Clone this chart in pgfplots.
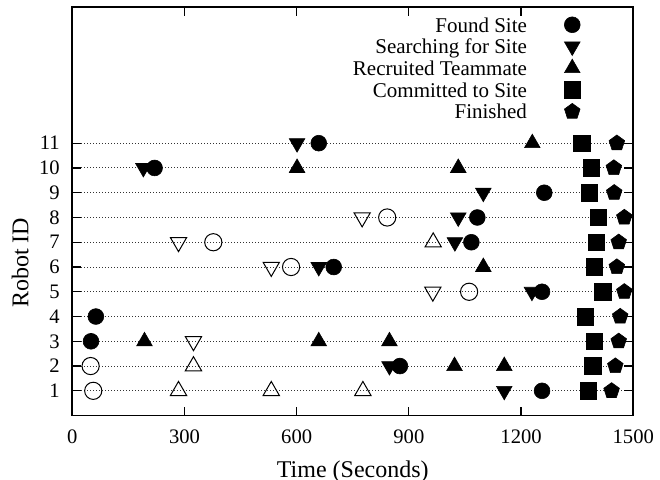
\documentclass[border=0pt]{standalone}
\usepackage{fontspec}
\setmainfont{Liberation Serif}
\usepackage{pgfplots}
\pgfplotsset{compat=1.18}
\begin{document}
\begin{tikzpicture}
\path[use as bounding box] (0,0) rectangle (330pt,240pt);
\begin{axis}[
  at={(36.15pt,32.2pt)}, anchor=south west,
  scale only axis, width=280.5pt, height=204.3pt,
  xmin=0, xmax=1500, ymin=0, ymax=16.5,
  xtick={0,300,...,1500}, ytick={1,...,11},
  tick align=inside, major tick length=4.5pt,
  every tick/.style={black, line width=0.6pt},
  axis line style={line width=0.9pt},
  ymajorgrids,
  grid style={black!80, line width=0.5pt, dash pattern=on 0.5pt off 1pt},
  ticklabel style={font=\fontsize{10.3}{12}\selectfont},
  /pgf/number format/assume math mode=true,
  /pgf/number format/1000 sep={},
  xticklabel style={yshift=-3.8pt},
  yticklabel style={xshift=-2.8pt},
  xlabel={Time (Seconds)}, ylabel={Robot ID},
  label style={font=\fontsize{12}{14}\selectfont},
  xlabel style={at={(axis description cs:0.5,-0.1503)}, anchor=base},
  ylabel style={at={(axis description cs:-0.0784,0.3742)}, anchor=base},
  clip=false,
  legend cell align=right, legend plot pos=right,
  legend image code/.code={\draw[#1] plot coordinates {(0pt,0pt)};},
  legend style={draw=none, fill=none, at={(0.906,0.983)}, anchor=north east,
    inner sep=0pt, outer sep=0pt, font=\fontsize{10.5}{12}\selectfont,
    nodes={inner sep=0pt, text height=9.1pt, text depth=1.75pt},
    column sep=18.5pt, row sep=0pt},
]
% open (hollow) markers, not in legend
\addplot[forget plot, only marks, mark=o, mark size=4.3pt, mark options={draw=black, fill=none, line width=0.5pt}]
  coordinates {(842,8) (377,7) (585,6) (1061,5) (49,2) (56,1)};
\addplot[forget plot, only marks, mark=triangle, mark size=4.7pt, mark options={rotate=180, draw=black, fill=none, line width=0.5pt}]
  coordinates {(775,8) (284,7) (532,6) (964,5) (324,3)};
\addplot[forget plot, only marks, mark=triangle, mark size=4.7pt, mark options={draw=black, fill=none, line width=0.5pt}]
  coordinates {(965,7) (324,2) (284,1) (532,1) (777,1)};
% filled markers
\addplot[only marks, mark=*, mark size=3.95pt, mark options={draw=black, fill=black, line width=0.3pt}]
  coordinates {(659,11) (220,10) (1262,9) (1083,8) (1067,7) (699,6) (1256,5) (63,4) (50,3) (876,2) (1256,1)};
\addlegendentry{Found Site}
\addplot[only marks, mark=triangle*, mark size=4.5pt, mark options={rotate=180, draw=black, fill=black, line width=0.3pt}]
  coordinates {(601,11) (190,10) (1099,9) (1032,8) (1023,7) (659,6) (1229,5) (848,2) (1155,1)};
\addlegendentry{Searching for Site}
\addplot[only marks, mark=triangle*, mark size=4.5pt, mark options={draw=black, fill=black, line width=0.3pt}]
  coordinates {(1230,11) (601,10) (1032,10) (1099,6) (193,3) (659,3) (848,3) (1022,2) (1155,2)};
\addlegendentry{Recruited Teammate}
\addplot[only marks, mark=square*, mark size=4.15pt, mark options={draw=black, fill=black, line width=0.3pt}]
  coordinates {(1362,11) (1388,10) (1382,9) (1406,8) (1401,7) (1396,6) (1418,5) (1372,4) (1396,3) (1391,2) (1380,1)};
\addlegendentry{Committed to Site}
\addplot[only marks, mark=pentagon*, mark size=4.1pt, mark options={draw=black, fill=black, line width=0.3pt}]
  coordinates {(1456,11) (1448,10) (1449,9) (1476,8) (1461,7) (1456,6) (1476,5) (1465,4) (1461,3) (1452,2) (1442,1)};
\addlegendentry{Finished}
\end{axis}
\end{tikzpicture}
\end{document}
